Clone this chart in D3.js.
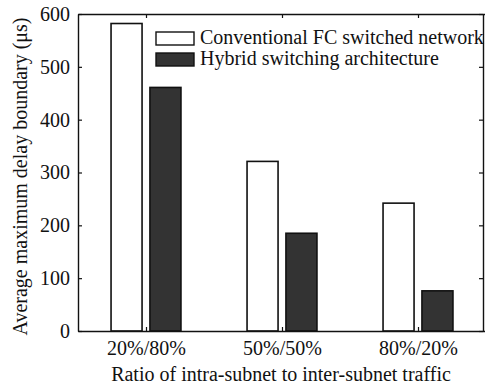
<!DOCTYPE html>
<html>
<head>
<meta charset="utf-8">
<script src="https://cdn.jsdelivr.net/npm/d3@7"></script>
<style>
  html, body { margin: 0; padding: 0; background: #fff; }
  svg { display: block; }
  text { font-family: "Liberation Serif", "Times New Roman", serif; fill: #111; }
</style>
</head>
<body>
<svg id="chart" width="485" height="385"></svg>
<script>
// Traffic ratio groups and delay bounds (μs)
const categories = ["20%/80%", "50%/50%", "80%/20%"];
const seriesNames = ["Conventional FC switched network", "Hybrid switching architecture"];
const conventional = [582, 321, 242];
const hybrid = [461, 185, 76];
const yTicks = [0, 100, 200, 300, 400, 500, 600];

const svg = d3.select("#chart");
const plot = { left: 78, right: 486, top: 14, bottom: 331 };

const x = d3.scaleLinear().domain([0.5, categories.length + 0.5]).range([plot.left, plot.right]);
const y = d3.scaleLinear().domain([0, 600]).range([plot.bottom, plot.top]);

const offset = 0.143, barW = 0.228;
const series = [
  { name: seriesNames[0], values: conventional, fill: "#ffffff", dx: -offset },
  { name: seriesNames[1], values: hybrid, fill: "#333333", dx: offset }
];

// Bars
series.forEach(s => {
  svg.append("g").selectAll("rect")
    .data(s.values)
    .join("rect")
    .attr("x", (d, i) => x(i + 1 + s.dx - barW / 2))
    .attr("width", x(barW) - x(0))
    .attr("y", d => y(d))
    .attr("height", d => y(0) - y(d))
    .attr("fill", s.fill)
    .attr("stroke", "#111")
    .attr("stroke-width", 1.6);
});

// Axes (box with mirrored ticks)
const fs = "20px";
const xAxis = d3.axisBottom(x).tickValues([1, 2, 3]).tickFormat((d) => categories[d - 1]).tickSizeInner(-4).tickSizeOuter(0).tickPadding(10);
const xTop = d3.axisTop(x).tickValues([1, 2, 3]).tickFormat("").tickSizeInner(-4).tickSizeOuter(0);
const yAxis = d3.axisLeft(y).tickValues(yTicks).tickSizeInner(-4).tickSizeOuter(0).tickPadding(8);
const yRight = d3.axisRight(y).tickValues(yTicks).tickFormat("").tickSizeInner(-4).tickSizeOuter(0);

function style(g) {
  g.select(".domain").attr("stroke", "#111").attr("stroke-width", 1.4);
  g.selectAll(".tick line").attr("stroke", "#111").attr("stroke-width", 1.2);
  g.selectAll(".tick text").attr("fill", "#111").style("font-size", fs)
    .style("font-family", '"Liberation Serif", serif');
}

svg.append("g").attr("transform", `translate(0,${plot.bottom})`).call(xAxis).call(style);
svg.append("g").attr("transform", `translate(0,${plot.top})`).call(xTop).call(style);
svg.append("g").attr("transform", `translate(${plot.left},0)`).call(yAxis).call(style);
svg.append("g").attr("transform", `translate(${plot.right - 3},0)`).call(yRight).call(style);

// Axis titles
svg.append("text")
  .attr("x", (plot.left + plot.right) / 2 - 1)
  .attr("y", 381)
  .attr("text-anchor", "middle")
  .style("font-size", fs)
  .text("Ratio of intra-subnet to inter-subnet traffic");

svg.append("text")
  .attr("transform", `translate(27,${(plot.top + plot.bottom) / 2 + 4}) rotate(-90)`)
  .attr("text-anchor", "middle")
  .style("font-size", fs)
  .text("Average maximum delay boundary (μs)");

// Legend
const legend = svg.append("g").attr("transform", "translate(156,32)");
series.forEach((s, i) => {
  legend.append("rect")
    .attr("x", 0).attr("y", i * 21)
    .attr("width", 38).attr("height", 13)
    .attr("fill", s.fill).attr("stroke", "#111").attr("stroke-width", 1.4);
  legend.append("text")
    .attr("x", 44).attr("y", i * 21 + 12)
    .style("font-size", fs)
    .text(s.name);
});
</script>
</body>
</html>
